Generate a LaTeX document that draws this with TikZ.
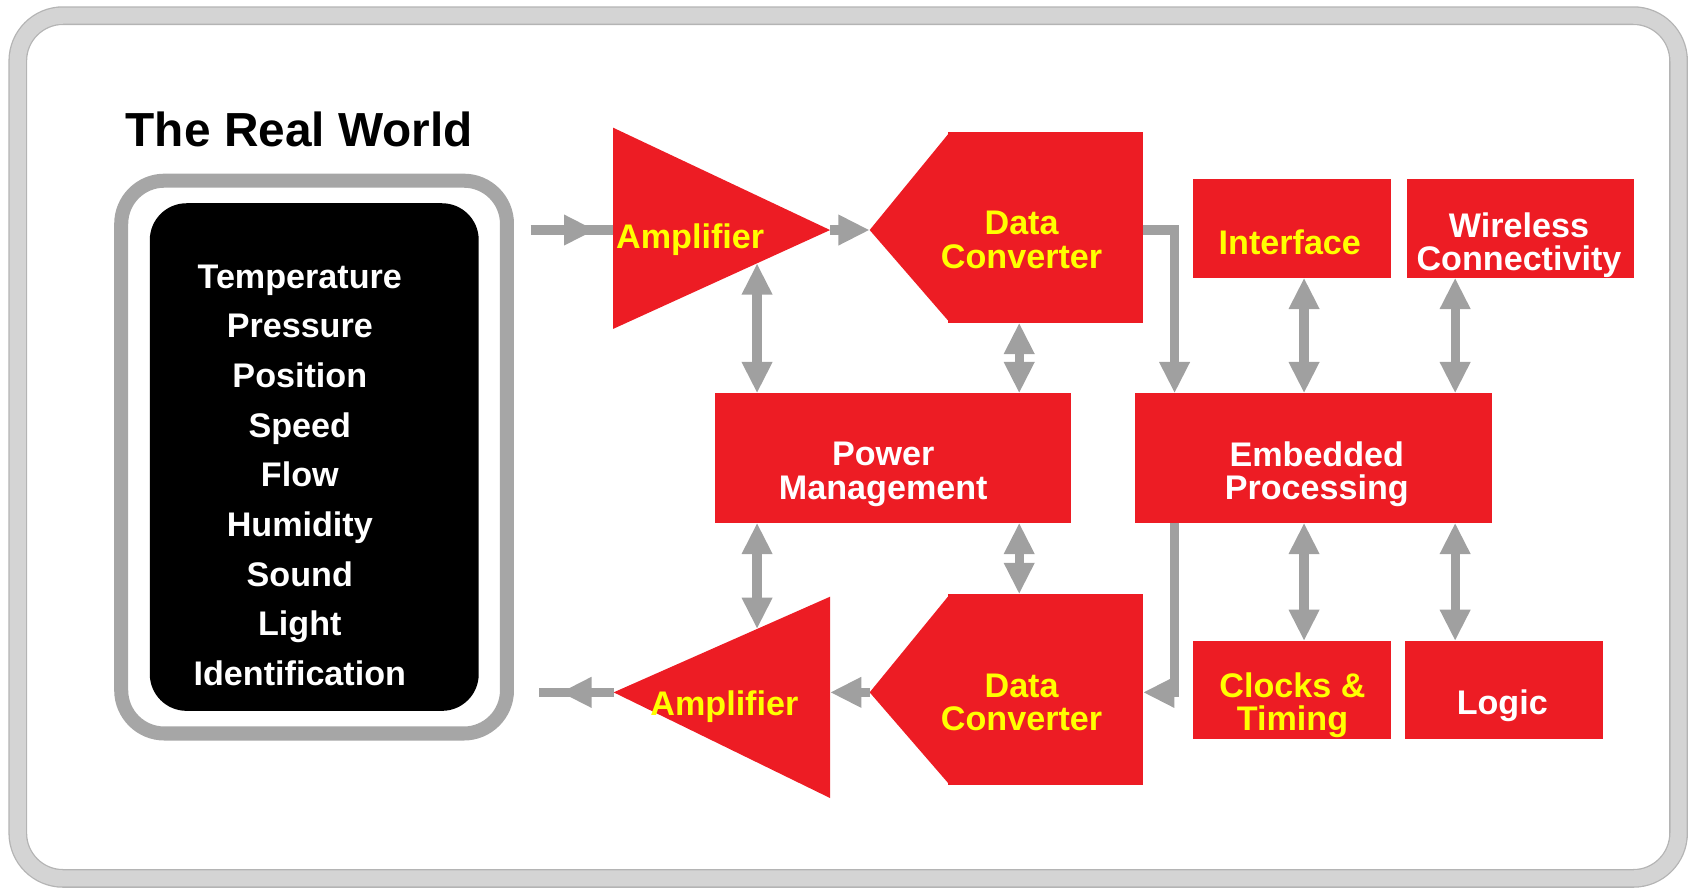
\documentclass[tikz,border=0pt]{standalone}
\usepackage{fontspec}
\setmainfont{Liberation Sans}
\usetikzlibrary{positioning, calc, arrows.meta, decorations.markings}
\definecolor{blockred}{RGB}{237,28,36}
\definecolor{labelyellow}{RGB}{255,255,0}
\definecolor{linkgray}{RGB}{160,160,160}
\definecolor{framegray}{RGB}{166,166,166}
\definecolor{bandgray}{RGB}{212,212,212}
\definecolor{edgegray}{RGB}{180,180,180}

\begin{document}
\begin{tikzpicture}[x=0.01cm, y=-0.01cm, on grid, >={Triangle[length=0.29cm, width=0.265cm]},
block/.style={fill=blockred, inner sep=0, outer sep=0},
link/.style={draw=linkgray, line width=0.085cm},
tipat/.style={postaction={decorate}, decoration={markings, mark=at position #1 with {\arrow{>}}}},
lbl/.style={font=\bfseries\fontsize{9}{8.8}\selectfont, align=center, inner sep=0},
ylbl/.style={lbl, text=labelyellow},
wlbl/.style={lbl, text=white}]
\useasboundingbox (0,0) rectangle (1568,823.4);

% outer frame and the real world
\draw[draw=edgegray, double=bandgray, double distance=0.15cm, line width=0.012cm, rounded corners=0.42cm] (16.5,14.5) rectangle (1556.5,814.5);
\node[font=\bfseries\fontsize{12.6}{15}\selectfont, anchor=base] (title) at (277.5,136) {The Real World};
\node[draw=framegray, line width=0.13cm, rounded corners=0.4cm, minimum width=3.575cm, minimum height=5.123cm] (rwf) at (291.25,423.85) {};
\node[fill=black, rounded corners=0.34cm, inner sep=0, minimum width=3.048cm, minimum height=4.704cm] (rwbox) at (291.4,423.8) {};
\node[wlbl, font=\bfseries\fontsize{9}{13.1}\selectfont] (quantities) at (278,440.7)
  {Temperature\\Pressure\\Position\\Speed\\Flow\\Humidity\\Sound\\Light\\Identification};
\coordinate (rwIn) at (492,213.3);
\coordinate (rwOut) at (500,642);

% signal chain
\coordinate (ampT-top) at (568.5,118.4);
\coordinate (ampT-bot) at (568.5,305);
\coordinate (ampT-tip) at (769.7,213.3);
\fill[blockred] (ampT-top) -- (ampT-tip) -- (ampT-bot) -- cycle;
\coordinate (ampB-tip) at (569,642);
\coordinate (ampB-top) at (769.7,553.3);
\coordinate (ampB-bot) at (769.7,740);
\fill[blockred] (ampB-top) -- (ampB-tip) -- (ampB-bot) -- cycle;

\node[block, minimum width=1.809cm, minimum height=1.768cm] (dcT) at (969.35,210.8) {};
\coordinate (dcT-tip) at (806.4,213.3);
\fill[blockred] ([xshift=0.02cm]dcT.north west) -- (dcT-tip) -- ([xshift=0.02cm]dcT.south west) -- cycle;
\node[block, minimum width=1.809cm, minimum height=1.77cm] (dcB) at (969.35,639.5) {};
\coordinate (dcB-tip) at (806.4,642);
\fill[blockred] ([xshift=0.02cm]dcB.north west) -- (dcB-tip) -- ([xshift=0.02cm]dcB.south west) -- cycle;

\node[block, minimum width=3.3cm, minimum height=1.2cm] (pm) at (828,424.7) {};
\node[block, minimum width=3.306cm, minimum height=1.2cm, right=3.896cm of pm] (ep) {};
\node[block, minimum width=1.835cm, minimum height=0.916cm] (ifc) at (1198.25,211.7) {};
\node[block, minimum width=2.103cm, minimum height=0.916cm, right=2.111cm of ifc] (wl) {};
\node[block, minimum width=1.835cm, minimum height=0.909cm] (clk) at (1198.25,639.85) {};
\node[block, minimum width=1.836cm, minimum height=0.909cm, right=1.96cm of clk] (lgc) {};

% connections
\coordinate (ampT-pm) at ($(ampT-bot)!0.6635!(ampT-tip)$);
\coordinate (ampB-pm) at ($(ampB-tip)!0.6627!(ampB-top)$);
\draw[link, tipat=-0.165cm] (rwIn) -- (ampT-top |- ampT-tip);
\draw[link, ->] (ampT-tip) -- (dcT-tip);
\draw[link, ->] (dcT-tip -| dcT.east) -| ([xshift=0.367cm]ep.north west);
\draw[link, <->] (ampT-pm) -- (ampT-pm |- pm.north);
\draw[link, <->] ([xshift=1.17cm]pm.north) -- ([xshift=1.17cm]pm.north |- dcT.south);
\draw[link, <->] ([xshift=1.17cm]pm.south) -- ([xshift=1.17cm]pm.south |- dcB.north);
\draw[link, <->] (pm.south -| ampB-pm) -- (ampB-pm);
\draw[link, ->] ([xshift=0.367cm]ep.south west) |- (dcB-tip -| dcB.east);
\draw[link, ->] (dcB-tip) -- (dcB-tip -| ampB-top);
\draw[link, tipat=-0.195cm] (ampB-tip) -- (rwOut);
\draw[link, <->] ([xshift=1.567cm]ep.north west) -- ([xshift=1.567cm]ep.north west |- ifc.south);
\draw[link, <->] ([xshift=2.967cm]ep.north west) -- ([xshift=2.967cm]ep.north west |- wl.south);
\draw[link, <->] ([xshift=1.567cm]ep.south west) -- ([xshift=1.567cm]ep.south west |- clk.north);
\draw[link, <->] ([xshift=2.967cm]ep.south west) -- ([xshift=2.967cm]ep.south west |- lgc.north);

% labels
\node[ylbl, anchor=base] (ampT-txt) at (640,230.7) {Amplifier};
\node[ylbl, anchor=base] (ampB-txt) at (671.7,663) {Amplifier};
\node[ylbl] (dcT-txt) at (947.3,222.6) {Data\\Converter};
\node[ylbl] (dcB-txt) at (947.3,651.6) {Data\\Converter};
\node[wlbl] (pm-txt) at (819,440) {Power\\Management};
\node[wlbl] (ep-txt) at (1221,440) {Embedded\\Processing};
\node[ylbl, anchor=base] (ifc-txt) at (1196,236.2) {Interface};
\node[wlbl] (wl-txt) at (1408.5,227.4) {Wireless\\Connectivity};
\node[ylbl] (clk-txt) at (1198.5,653.8) {Clocks \&\\Timing};
\node[wlbl, anchor=base] (lgc-txt) at (1393,662.6) {Logic};
\end{tikzpicture}
\end{document}
